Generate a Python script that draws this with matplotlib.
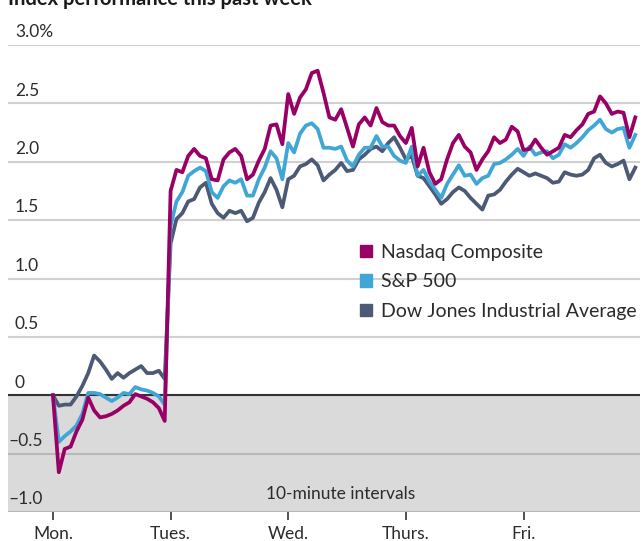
import numpy as np
import matplotlib.pyplot as plt
from matplotlib.patches import Patch
from matplotlib.transforms import blended_transform_factory

plt.rcParams['font.family'] = ['Lato', 'DejaVu Sans']

# Datos: cambio % desde el cierre anterior, 20 muestras por día
days = ['Mon.', 'Tues.', 'Wed.', 'Thurs.', 'Fri.']
per_day = 20

nasdaq = [
    # Mon
    0.00, -0.66, -0.46, -0.44, -0.31, -0.21, -0.02, -0.13, -0.19, -0.18,
    -0.16, -0.13, -0.09, -0.06, 0.01, -0.01, -0.03, -0.06, -0.11, -0.22,
    # Tue
    1.75, 1.93, 1.91, 2.05, 2.11, 2.05, 2.03, 1.85, 1.84, 2.02,
    2.08, 2.11, 2.05, 1.85, 1.89, 2.01, 2.11, 2.31, 2.32, 2.15,
    # Wed
    2.58, 2.41, 2.55, 2.62, 2.76, 2.78, 2.59, 2.38, 2.36, 2.45,
    2.29, 2.13, 2.32, 2.38, 2.31, 2.46, 2.34, 2.31, 2.31, 2.22,
    # Thu
    2.16, 2.29, 1.96, 2.12, 1.91, 1.81, 1.85, 2.02, 2.16, 2.23,
    2.13, 2.08, 1.93, 2.02, 2.09, 2.21, 2.16, 2.19, 2.30, 2.26,
    # Fri
    2.10, 2.11, 2.19, 2.12, 2.06, 2.09, 2.12, 2.23, 2.21, 2.27,
    2.32, 2.41, 2.43, 2.56, 2.50, 2.41, 2.43, 2.42, 2.21, 2.38,
]

sp500 = [
    # Mon
    0.00, -0.40, -0.35, -0.31, -0.26, -0.16, 0.02, 0.02, 0.01, -0.02,
    -0.05, -0.02, 0.02, 0.01, 0.07, 0.05, 0.04, 0.02, -0.01, -0.08,
    # Tue
    1.45, 1.66, 1.74, 1.88, 1.92, 1.95, 1.92, 1.74, 1.69, 1.79,
    1.84, 1.82, 1.85, 1.71, 1.71, 1.85, 1.95, 2.09, 2.03, 1.85,
    # Wed
    2.16, 2.08, 2.24, 2.31, 2.33, 2.28, 2.12, 2.12, 2.11, 2.13,
    2.01, 1.96, 2.06, 2.12, 2.12, 2.22, 2.13, 2.13, 2.05, 2.01,
    # Thu
    1.99, 2.13, 1.88, 1.93, 1.83, 1.76, 1.69, 1.81, 1.89, 1.97,
    1.88, 1.89, 1.81, 1.86, 1.88, 1.98, 1.99, 2.02, 2.06, 2.11,
    # Fri
    2.05, 2.13, 2.06, 2.08, 2.09, 2.03, 2.06, 2.15, 2.12, 2.16,
    2.21, 2.27, 2.31, 2.36, 2.28, 2.25, 2.28, 2.29, 2.12, 2.23,
]

dow = [
    # Mon
    0.00, -0.09, -0.08, -0.08, -0.01, 0.08, 0.19, 0.34, 0.29, 0.22,
    0.14, 0.19, 0.15, 0.19, 0.22, 0.25, 0.19, 0.19, 0.21, 0.14,
    # Tue
    1.30, 1.51, 1.56, 1.66, 1.68, 1.78, 1.82, 1.64, 1.56, 1.52,
    1.58, 1.56, 1.58, 1.49, 1.52, 1.65, 1.74, 1.86, 1.76, 1.61,
    # Wed
    1.85, 1.88, 1.96, 1.98, 2.02, 1.97, 1.84, 1.89, 1.93, 1.99,
    1.92, 1.93, 2.02, 2.06, 2.11, 2.13, 2.09, 2.16, 2.21, 2.12,
    # Thu
    2.02, 2.05, 1.88, 1.86, 1.79, 1.72, 1.64, 1.68, 1.74, 1.78,
    1.75, 1.69, 1.64, 1.59, 1.71, 1.72, 1.76, 1.83, 1.89, 1.94,
    # Fri
    1.91, 1.88, 1.90, 1.88, 1.86, 1.82, 1.83, 1.91, 1.89, 1.88,
    1.89, 1.93, 2.03, 2.06, 1.99, 1.96, 1.98, 2.01, 1.85, 1.95,
]

names = ['Nasdaq Composite', 'S&P 500', 'Dow Jones Industrial Average']
colors = ['#990066', '#3fa6d6', '#4c5a75']

y_ticks = [-1.0, -0.5, 0, 0.5, 1.0, 1.5, 2.0, 2.5, 3.0]
y_labels = ['–1.0', '–0.5', '0', '0.5', '1.0', '1.5', '2.0', '2.5', '3.0%']

txt = '#2b2b2b'

# Posición x de cada muestra (en días)
idx = np.arange(len(nasdaq))
x = idx // per_day + (idx % per_day) / per_day

fig = plt.figure(figsize=(6.44, 5.41), dpi=100)
ax = fig.add_axes([8 / 644, 29 / 541, 632 / 644, 467 / 541])

# Zona negativa sombreada y líneas de referencia
ax.axhspan(-1, 0, color='#dadada', zorder=0, lw=0)
for v in y_ticks:
    c = '#b8b8b8' if v < 0 else '#d0d0d0'
    ax.axhline(v, color=c, lw=1.5, zorder=1)
ax.axhline(0, color='#333333', lw=1.5, zorder=2)

ax.plot(x, dow, color=colors[2], lw=2.7, zorder=3)
ax.plot(x, sp500, color=colors[1], lw=2.7, zorder=4)
ax.plot(x, nasdaq, color=colors[0], lw=2.7, zorder=5)

ax.set_xlim(-0.382, 4.99)
ax.set_ylim(-1, 3)
for s in ax.spines.values():
    s.set_visible(False)
ax.set_yticks([])
ax.set_xticks(range(len(days)))
ax.set_xticklabels(days)
ax.tick_params(axis='x', length=6, width=1.2, color='#333333', pad=4,
               labelsize=12.5, labelcolor=txt)

# Etiquetas del eje y encima de cada línea
trans = blended_transform_factory(ax.transAxes, ax.transData)
for v, lab in zip(y_ticks, y_labels):
    xp = 0.0 if v < 0 else 0.011
    ax.text(xp, v + 0.04, lab, transform=trans, ha='left', va='bottom',
            fontsize=12.5, color=txt)

ax.text(0.527, -0.85, '10-minute intervals', transform=trans, ha='center',
        va='center', fontsize=12.5, color=txt)

handles = [Patch(color=c) for c in colors]
ax.legend(handles, names, loc='upper left', bbox_to_anchor=(0.557, 0.574),
          frameon=False, fontsize=14, handlelength=0.62, handleheight=0.62,
          handletextpad=0.46, labelspacing=0.64, borderpad=0,
          borderaxespad=0, labelcolor=txt)

fig.text(8 / 644, 1 - 5 / 541, 'Index performance this past week',
         fontweight='bold', fontsize=14.5, va='baseline', ha='left', color='#1a1a1a')

fig.savefig('out.png', dpi=100)
